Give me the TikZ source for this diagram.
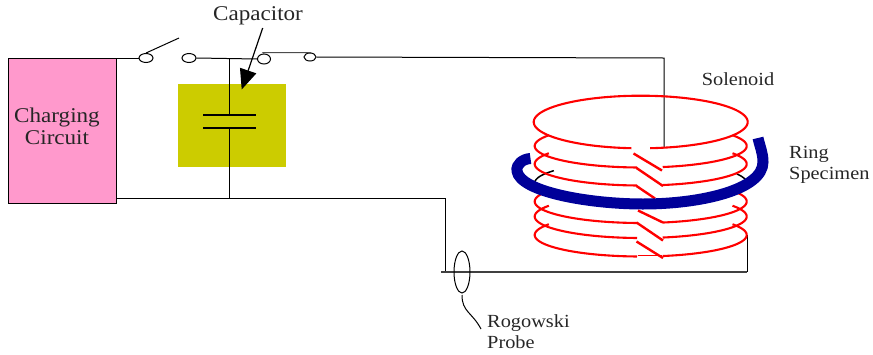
\documentclass[tikz,border=0pt]{standalone}
\usepackage{fontspec}
\setmainfont[FakeStretch=1.1]{Liberation Serif}
\usetikzlibrary{arrows.meta,shapes.geometric}
\definecolor{pinkbox}{RGB}{255,153,204}
\definecolor{capbox}{RGB}{204,204,0}
\definecolor{ringblue}{RGB}{0,0,153}
\tikzset{
  wire/.style={black,line width=1pt},
  term/.style={draw=black,line width=1pt,fill=white,ellipse,inner sep=0pt},
  coil/.style={red,line width=2.1pt},
  hop/.style={red,line width=2.4pt},
  lbl/.style={font=\fontsize{18.5}{21}\selectfont,text=black!85,inner sep=0pt,align=left},
}
\newcommand{\looparc}[1]{%
  \draw[coil] plot[domain=92:210,samples=50,smooth] ({640.7+106*cos(\x)},{#1+21.5*sin(\x)});
  \draw[coil] plot[domain=-30:78,samples=50,smooth] ({640.7+106*cos(\x)},{#1+21.5*sin(\x)});
}
\begin{document}
\begin{tikzpicture}[x=1pt,y=-1pt]
\useasboundingbox (0,0) rectangle (873,354);
% boxes
\node[draw=black,line width=0.9pt,fill=pinkbox,minimum width=108pt,minimum height=145pt,inner sep=0pt] (charger) at (62,130.5) {};
\node[lbl,font=\fontsize{21}{22}\selectfont,align=center,anchor=center] (chargetext) at (57,126) {Charging\\Circuit};
\node[fill=capbox,minimum width=108pt,minimum height=83pt,inner sep=0pt] (capbox) at (232,125.5) {};
% terminals
\node[term,minimum width=14pt,minimum height=9pt] (s1) at (146,58) {};
\node[term,minimum width=14pt,minimum height=9pt] (s2) at (189,58) {};
\node[term,minimum width=13pt,minimum height=10pt] (s3) at (264,59) {};
\node[term,minimum width=12pt,minimum height=8pt] (s4) at (310,57) {};
% wire junctions
\coordinate (chargeTop) at (116,58);
\coordinate (capTop) at (229,58);
\coordinate (plateA) at (229,115);
\coordinate (plateB) at (229,128);
\coordinate (capBot) at (229,198);
\coordinate (chargeBot) at (116,198);
\coordinate (lowCorner) at (445,198);
\coordinate (lowDown) at (445,272);
\coordinate (botL) at (441,272);
\coordinate (botR) at (747,272);
\coordinate (coilEnd) at (747,235);
\coordinate (topCorner) at (664,58);
\coordinate (coilStart) at (664,148);
% wires
\draw[wire] (chargeTop) -- (s1.west);
\draw[wire] (s2.east) -- (s3.west);
\draw[wire] (s4.east) -- (topCorner) -- (coilStart);
\draw[wire] (capTop) -- (plateA);
\draw[wire] (plateB) -- (capBot);
\draw[wire] (chargeBot) -- (lowCorner) -- (lowDown);
\draw[wire,black!75,line width=1.1pt] (botL) -- (botR);
\draw[wire] (botR) -- (coilEnd);
% switch arms
\coordinate (arm1) at (179,38);
\draw[wire] (s1.north) -- (arm1);
\draw[wire,black!70] (s3.north) -- (263,52.5) -- (311,52.5) -- (s4.north);
% plates
\draw[black,line width=2pt] (203,115) -- (256,115);
\draw[black,line width=2pt] (203,128) -- (256,128);
% capacitor label and arrow
\node[lbl,font=\fontsize{21}{25}\selectfont] (captext) at (258,16) {Capacitor};
\coordinate (capPoint) at (241.7,89.5);
\draw[black,line width=1.2pt,-{Triangle[length=20pt,width=17pt]}] (262.7,28) -- (capPoint);
% coil: black hidden turn
\draw[black,line width=1.5pt] plot[domain=180:215,samples=15,smooth] ({640.7+106*cos(\x)},{183+21.5*sin(\x)});
\draw[black,line width=1.5pt] plot[domain=-25:-5,samples=15,smooth] ({640.7+106*cos(\x)},{183+21.5*sin(\x)});
% coil: top loop
\draw[coil] plot[domain=95:445,samples=120,smooth] ({640.7+107*cos(\x)},{122+26.3*sin(\x)});
\looparc{146}
\looparc{164}
\looparc{201.5}
\looparc{216.5}
\looparc{235}
\draw[red,line width=0.8pt] (637.5,255.7) -- (662,255.7);
% hop strokes
\draw[hop] (633.5,153.5) -- (662,170.5);
\draw[hop] (636.5,168) -- (663,186);
\draw[hop] (636.5,186) -- (655,198.5);
\draw[hop] (638,210.5) -- (663,222.5);
\draw[hop] (636.5,222.5) -- (663,240.5);
\draw[hop] (636.5,241.5) -- (663,258);
% ring specimen
\draw[ringblue,line width=11pt] (530.5,158.5) .. controls (523,159) and (516,164) .. (517,171) .. controls (520,192) and (590,204) .. (643,204) .. controls (700,204) and (763,190) .. (763,162) .. controls (763,153) and (760,147) .. (758,138);
% probe
\node[draw=black,line width=1pt,ellipse,minimum width=16pt,minimum height=42pt,inner sep=0pt] (probe) at (462,272) {};
\coordinate (tailEnd) at (481,329);
\draw[black,line width=1pt] (462,295) .. controls (462,312) and (472,312) .. (tailEnd);
% labels
\node[lbl] (solenoid) at (738,79) {Solenoid};
\node[lbl,anchor=west] (ringtext) at (789,164.5) {Ring\\Specimen};
\node[lbl,anchor=west] (rogtext) at (487,331.5) {Rogowski\\Probe};
\end{tikzpicture}
\end{document}
